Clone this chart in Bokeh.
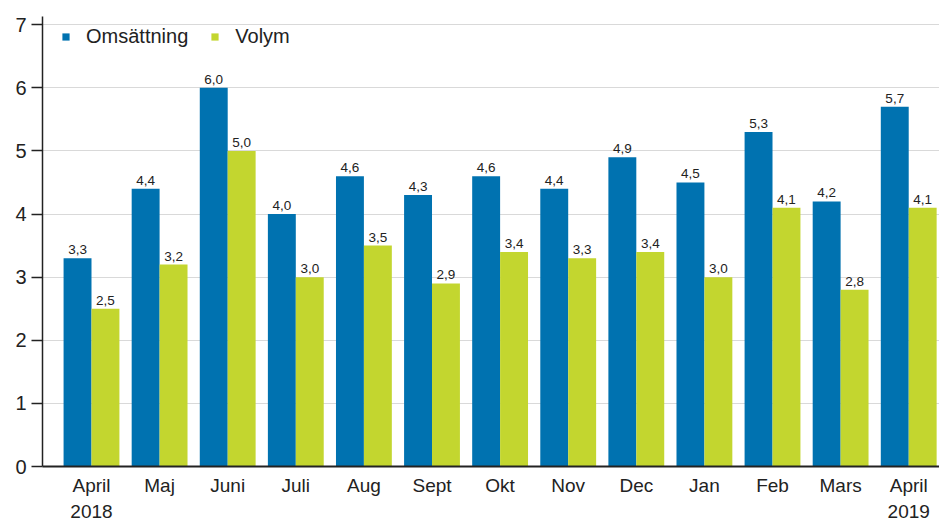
from bokeh.plotting import figure
from bokeh.models import ColumnDataSource, Range1d, FixedTicker, Legend, LegendItem
from bokeh.embed import file_html
from bokeh.resources import INLINE
from bokeh.core.properties import value

months = ["April\n2018", "Maj", "Juni", "Juli", "Aug", "Sept", "Okt", "Nov", "Dec", "Jan", "Feb", "Mars", "April\n2019"]
omsattning = [3.3, 4.4, 6.0, 4.0, 4.6, 4.3, 4.6, 4.4, 4.9, 4.5, 5.3, 4.2, 5.7]
volym = [2.5, 3.2, 5.0, 3.0, 3.5, 2.9, 3.4, 3.3, 3.4, 3.0, 4.1, 2.8, 4.1]
y_ticks = [0, 1, 2, 3, 4, 5, 6, 7]

BLUE = "#0072b0"
GREEN = "#c3d62f"
FONT = "Liberation Sans"
TXT = "#222222"

idx = list(range(len(months)))
bw = 0.41

def fmt(v):
    return f"{v:.1f}".replace(".", ",")

src_o = ColumnDataSource(dict(x=[i - bw / 2 for i in idx], top=omsattning, lab=[fmt(v) for v in omsattning]))
src_v = ColumnDataSource(dict(x=[i + bw / 2 for i in idx], top=volym, lab=[fmt(v) for v in volym]))

p = figure(width=939, height=526, output_backend="svg", toolbar_location=None,
           x_range=Range1d(-0.7195, 12.452), y_range=Range1d(0, 7.13),
           min_border_left=42, min_border_top=16, min_border_bottom=60, min_border_right=0)
p.outline_line_color = None

r_o = p.vbar(x="x", top="top", width=bw, source=src_o, fill_color=BLUE, line_color=None)
r_v = p.vbar(x="x", top="top", width=bw, source=src_v, fill_color=GREEN, line_color=None)

for src in (src_o, src_v):
    p.text(x="x", y="top", text="lab", source=src, text_align="center", text_baseline="bottom",
           y_offset=-4, text_font=value(FONT), text_font_size="13.5px", text_color=TXT)

# axes
p.xgrid.grid_line_color = None
p.ygrid.grid_line_color = "#d9d9d9"
p.ygrid.grid_line_width = 1

p.yaxis.ticker = FixedTicker(ticks=y_ticks)
p.yaxis.minor_tick_line_color = None
p.yaxis.major_tick_out = 11
p.yaxis.major_tick_in = 0
p.yaxis.axis_line_color = TXT
p.yaxis.axis_line_width = 1.5
p.yaxis.major_tick_line_color = TXT
p.yaxis.major_tick_line_width = 1.5
p.yaxis.major_label_standoff = 5
p.yaxis.major_label_text_font = FONT
p.yaxis.major_label_text_font_size = "20px"
p.yaxis.major_label_text_color = TXT

p.xaxis.ticker = FixedTicker(ticks=idx)
p.xaxis.major_label_overrides = {i: m for i, m in zip(idx, months)}
p.xaxis.minor_tick_line_color = None
p.xaxis.major_tick_line_color = None
p.xaxis.major_tick_out = 0
p.xaxis.major_tick_in = 0
p.xaxis.axis_line_color = TXT
p.xaxis.axis_line_width = 2
p.xaxis.major_label_standoff = 8
p.xaxis.major_label_text_font = FONT
p.xaxis.major_label_text_font_size = "19px"
p.xaxis.major_label_text_color = TXT
p.xaxis.major_label_text_line_height = 1.25

legend = Legend(items=[LegendItem(label="Omsättning", renderers=[r_o]),
                       LegendItem(label="Volym", renderers=[r_v])],
                location=(19, 418), orientation="horizontal")
legend.background_fill_alpha = 0
legend.border_line_color = None
legend.margin = 0
legend.padding = 8
legend.glyph_width = 9
legend.glyph_height = 9
legend.label_standoff = 16
legend.spacing = 22
legend.label_text_font = FONT
legend.label_text_font_size = "20px"
legend.label_text_color = TXT
p.add_layout(legend)

open("out.html", "w").write(file_html(p, INLINE))
